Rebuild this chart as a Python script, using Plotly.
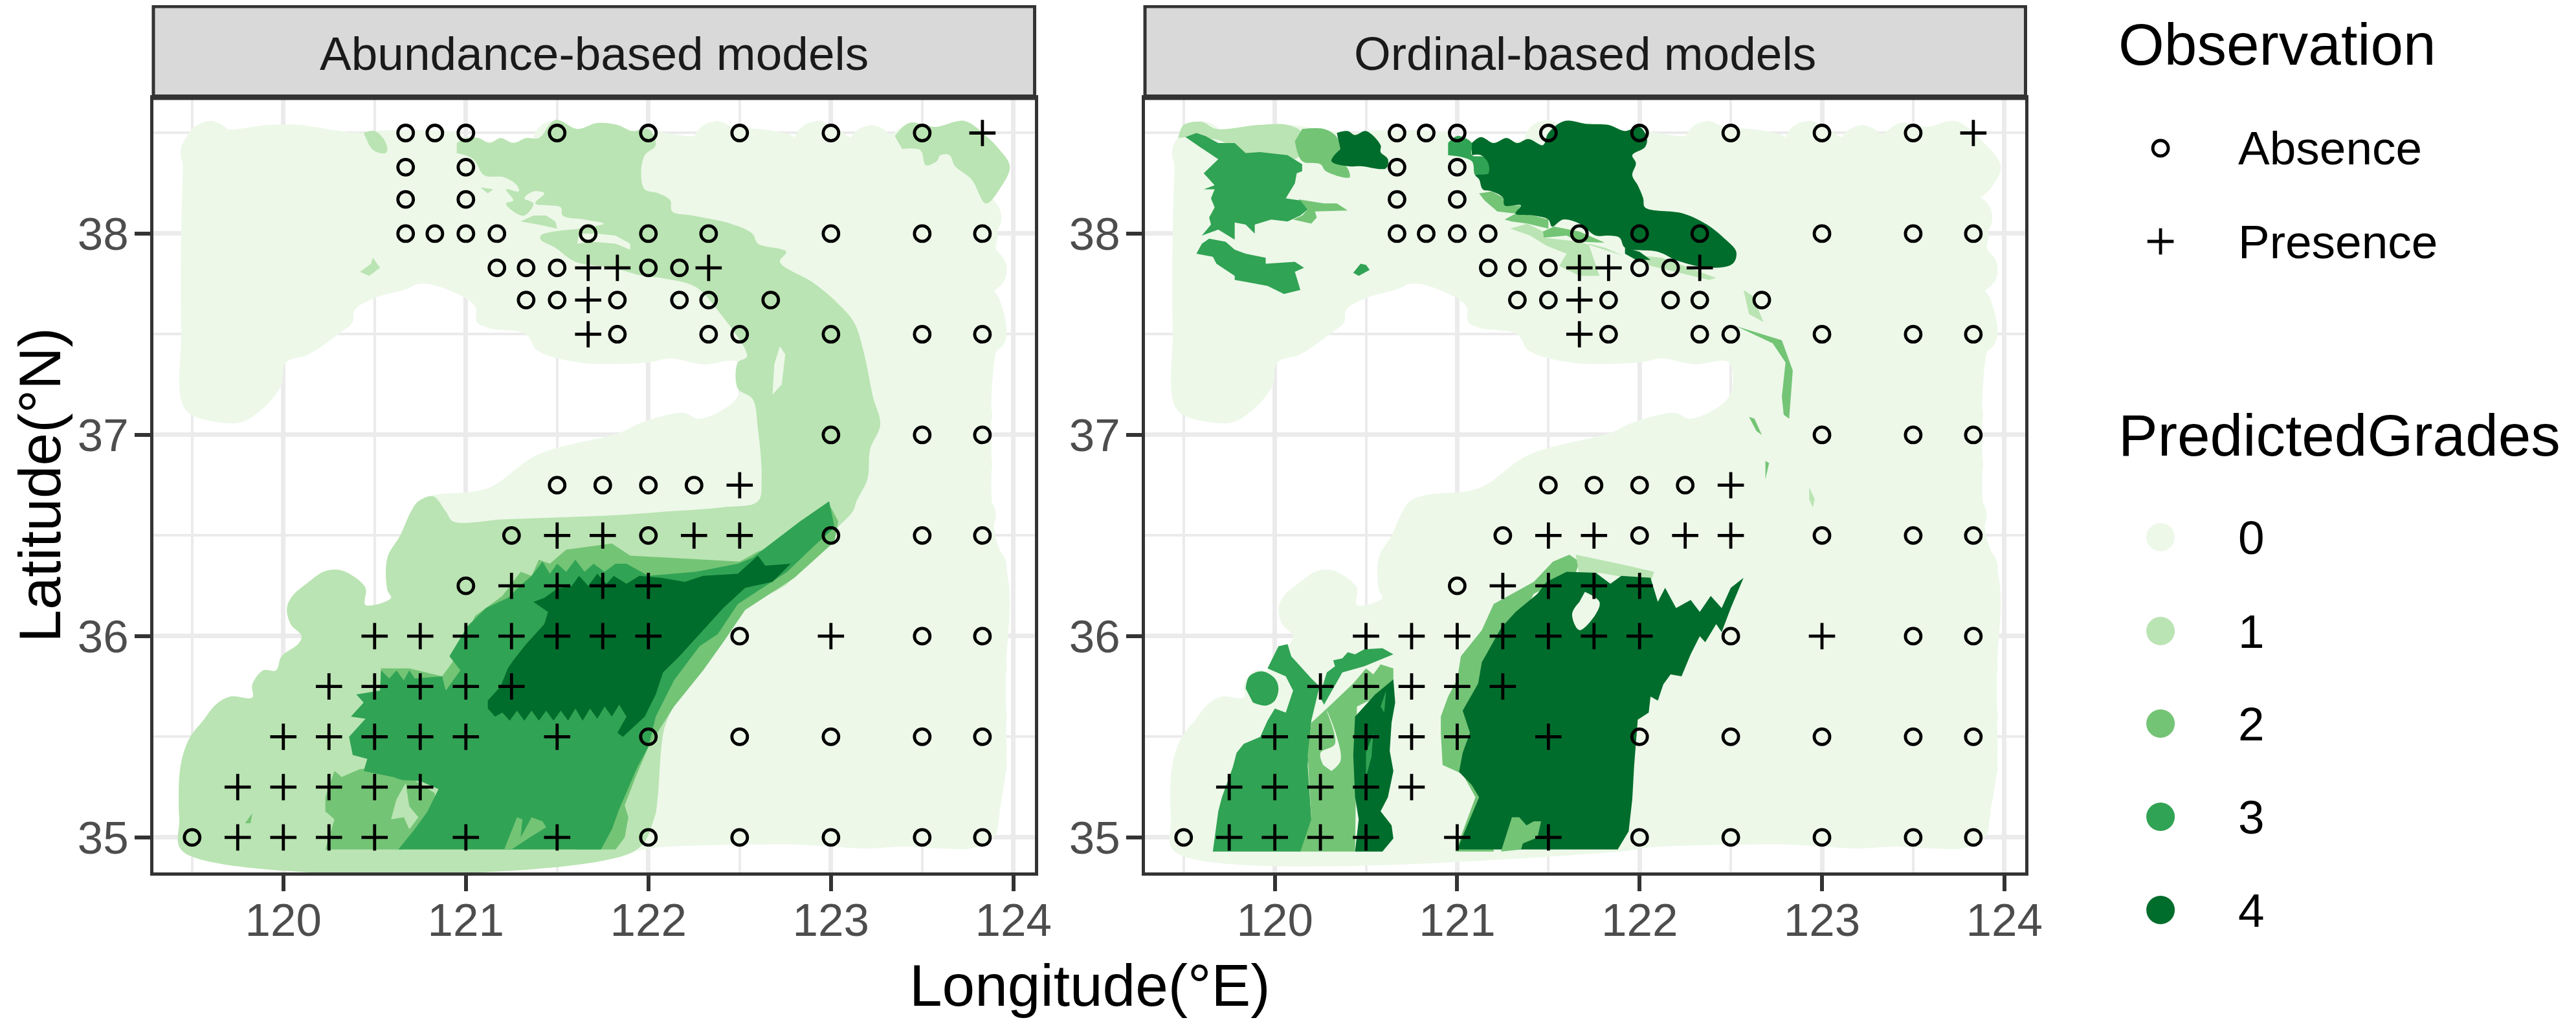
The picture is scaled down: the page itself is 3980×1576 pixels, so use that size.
import plotly.graph_objects as go

W, H = 3980, 1576

grade_names = ["0", "1", "2", "3", "4"]
grade_colors = ["#EDF8E9", "#BAE4B3", "#74C476", "#31A354", "#006D2C"]

x_ticks = [120, 121, 122, 123, 124]
x_minor = [119.5, 120.5, 121.5, 122.5, 123.5]
y_ticks = [35, 36, 37, 38]
y_minor = [35.5, 36.5, 37.5, 38.5]

# observations, same stations in both panels (lon, lat)
absence = [
    (120.67, 38.5), (120.83, 38.5), (121, 38.5), (121.5, 38.5), (122, 38.5), (122.5, 38.5), (123, 38.5), (123.5, 38.5),
    (120.67, 38.33), (121, 38.33), (120.67, 38.17), (121, 38.17),
    (120.67, 38), (120.83, 38), (121, 38), (121.17, 38), (121.67, 38), (122, 38), (122.33, 38), (123, 38), (123.5, 38), (123.83, 38),
    (121.17, 37.83), (121.33, 37.83), (121.5, 37.83), (122, 37.83), (122.17, 37.83),
    (121.33, 37.67), (121.5, 37.67), (121.83, 37.67), (122.17, 37.67), (122.33, 37.67), (122.67, 37.67),
    (121.83, 37.5), (122.33, 37.5), (122.5, 37.5), (123, 37.5), (123.5, 37.5), (123.83, 37.5),
    (123, 37), (123.5, 37), (123.83, 37),
    (121.5, 36.75), (121.75, 36.75), (122, 36.75), (122.25, 36.75),
    (121.25, 36.5), (122, 36.5), (123, 36.5), (123.5, 36.5), (123.83, 36.5),
    (121, 36.25), (122.5, 36), (123.5, 36), (123.83, 36),
    (122, 35.5), (122.5, 35.5), (123, 35.5), (123.5, 35.5), (123.83, 35.5),
    (119.5, 35), (122, 35), (122.5, 35), (123, 35), (123.5, 35), (123.83, 35),
]
presence = [
    (123.83, 38.5), (121.67, 37.83), (121.83, 37.83), (122.33, 37.83), (121.67, 37.67), (121.67, 37.5),
    (122.5, 36.75), (121.5, 36.5), (121.75, 36.5), (122.25, 36.5), (122.5, 36.5),
    (121.25, 36.25), (121.5, 36.25), (121.75, 36.25), (122, 36.25),
    (120.5, 36), (120.75, 36), (121, 36), (121.25, 36), (121.5, 36), (121.75, 36), (122, 36), (123, 36),
    (120.25, 35.75), (120.5, 35.75), (120.75, 35.75), (121, 35.75), (121.25, 35.75),
    (120, 35.5), (120.25, 35.5), (120.5, 35.5), (120.75, 35.5), (121, 35.5), (121.5, 35.5),
    (119.75, 35.25), (120, 35.25), (120.25, 35.25), (120.5, 35.25), (120.75, 35.25),
    (119.75, 35), (120, 35), (120.25, 35), (120.5, 35), (121, 35), (121.5, 35),
]

# south-west coast, south to north, shared by the outline and the grade 1 area
sw_coast = [
    (119.45, 34.93), (119.43, 35.09), (119.43, 35.30), (119.45, 35.41), (119.49, 35.50), (119.56, 35.58), (119.63, 35.66),
    (119.71, 35.70), (119.83, 35.695), (119.83, 35.76), (119.89, 35.83), (119.96, 35.83), (119.99, 35.90), (120.08, 35.96),
    (120.10, 36.0), (120.04, 36.06), (120.02, 36.14), (120.05, 36.20), (120.14, 36.27), (120.22, 36.32), (120.30, 36.33),
    (120.38, 36.30), (120.45, 36.24), (120.45, 36.155), (120.59, 36.19), (120.57, 36.23), (120.57, 36.39), (120.64, 36.50),
    (120.70, 36.62), (120.74, 36.67),
]
# whole sampled area, grade 0 where nothing else is drawn
outline_top = [
    (119.44, 38.41), (119.50, 38.52), (119.61, 38.56), (119.68, 38.52), (119.92, 38.54), (120.09, 38.54), (120.27, 38.515),
    (120.44, 38.50), (120.5, 38.51), (120.96, 38.50), (121, 38.475), (121.40, 38.475), (121.49, 38.565), (121.61, 38.52),
    (121.72, 38.55), (121.83, 38.54), (121.91, 38.51), (122.0, 38.52), (122.1, 38.50), (122.29, 38.49), (122.37, 38.56),
    (122.46, 38.53), (122.61, 38.52), (122.78, 38.49), (122.83, 38.46), (122.92, 38.56), (123.03, 38.52), (123.13, 38.475),
    (123.22, 38.54), (123.31, 38.49), (123.43, 38.55), (123.57, 38.53), (123.73, 38.56), (123.85, 38.485), (123.98, 38.335),
    (123.93, 38.23), (123.85, 38.15), (123.93, 38.08), (123.90, 37.99), (123.91, 37.91), (123.96, 37.82), (123.89, 37.75),
    (123.94, 37.63), (123.96, 37.51), (123.91, 37.43), (123.88, 37.19), (123.88, 36.87), (123.88, 36.70), (123.90, 36.5),
    (123.96, 36.34), (123.98, 36.18), (123.96, 35.85), (123.96, 35.6), (123.96, 35.35), (123.92, 35.11), (123.90, 35.01),
    (123.79, 34.95), (123.6, 34.945), (123.4, 34.955), (123.2, 34.945), (123, 34.955), (122.8, 34.965), (122.6, 34.965),
    (122.3, 34.96), (122.05, 34.95), (121.9, 34.93),
]
outline_hole = [
    (120.82, 36.70), (121.12, 36.735), (121.39, 36.90), (121.84, 37.01), (121.96, 37.06), (122.19, 37.11), (122.28, 37.08),
    (122.49, 37.19), (122.49, 37.36), (122.3, 37.35), (122.12, 37.38), (122.0, 37.36), (121.62, 37.36), (121.39, 37.42),
    (121.33, 37.5), (121.13, 37.53), (121.06, 37.56), (121.05, 37.64), (120.86, 37.735), (120.74, 37.75), (120.675, 37.725),
    (120.50, 37.68), (120.39, 37.62), (120.38, 37.56), (120.30, 37.5), (120.14, 37.40), (120.015, 37.36), (119.98, 37.23),
    (119.79, 37.07), (119.63, 37.065), (119.46, 37.13), (119.44, 37.52), (119.44, 38.01), (119.45, 38.34),
]
# round lobes along the edge of the area
edge_lobes = [
    (119.60, 38.445), (119.56, 38.40), (121.49, 38.45), (122.37, 38.445), (122.47, 38.42), (122.60, 38.405), (122.92, 38.445),
    (123.22, 38.425), (123.81, 38.08), (123.79, 37.99), (123.84, 37.82), (123.81, 37.63), (123.84, 37.51), (123.76, 37.32),
    (123.76, 37.1), (123.76, 36.85), (123.78, 36.6), (123.84, 36.34), (123.85, 36.18), (123.84, 36.0), (123.84, 35.85),
    (123.84, 35.6), (123.84, 35.35), (123.8, 35.12), (119.68, 37.19), (119.56, 37.4),
]

# abundance panel
a_g1_main = [
    (120.95, 38.45), (121.0, 38.475), (121.07, 38.475), (121.13, 38.45), (121.19, 38.475), (121.26, 38.45), (121.33, 38.475),
    (121.40, 38.475), (121.49, 38.565), (121.61, 38.52), (121.72, 38.55), (121.83, 38.54), (121.91, 38.51), (122.0, 38.52),
    (122.04, 38.44), (121.98, 38.39), (121.96, 38.30), (121.98, 38.22), (122.055, 38.20), (122.12, 38.165), (122.13, 38.11),
    (122.24, 38.09), (122.45, 38.05), (122.57, 38.0), (122.6, 37.95), (122.755, 37.91), (122.72, 37.86), (122.905, 37.755),
    (123.03, 37.66), (123.126, 37.56), (123.18, 37.41), (123.23, 37.19), (123.27, 37.05), (123.215, 36.93), (123.2, 36.78),
    (123.14, 36.67), (123.12, 36.62), (122.99, 36.50), (122.87, 36.38), (122.76, 36.26), (122.6, 36.18), (122.45, 36.09),
    (122.38, 35.95), (122.26, 35.8), (122.15, 35.67), (122.09, 35.55), (122.07, 35.44), (122.05, 35.19), (122.03, 35.09),
    (121.92, 34.93),
] + sw_coast + [
    (120.82, 36.695), (120.89, 36.62), (120.93, 36.57), (121.2, 36.58), (121.5, 36.59), (121.8, 36.60), (122.11, 36.62),
    (122.4, 36.64), (122.6, 36.67), (122.62, 36.78), (122.6, 37.03), (122.57, 37.18), (122.49, 37.23), (122.49, 37.36),
    (122.54, 37.39), (122.37, 37.63), (122.26, 37.735), (122.07, 37.78), (121.97, 37.79), (121.8, 37.83), (121.6, 37.86),
    (121.49, 37.93), (121.41, 37.97), (121.41, 37.99), (121.48, 38.01), (121.62, 38.025), (121.755, 38.05), (121.65, 38.07),
    (121.53, 38.09), (121.52, 38.13), (121.38, 38.15), (121.43, 38.20), (121.37, 38.21), (121.32, 38.175), (121.37, 38.15),
    (121.32, 38.09), (121.26, 38.11), (121.22, 38.15), (121.26, 38.165), (121.22, 38.22), (121.29, 38.21), (121.28, 38.24),
    (121.21, 38.28), (121.10, 38.29), (121.04, 38.37), (120.95, 38.40),
]
a_g1_frond = [(121.30, 38.06), (121.37, 38.09), (121.44, 38.09), (121.49, 38.06), (121.5, 38.025), (121.40, 38.045)]
a_g1_blob = [(120.44, 38.5), (120.5, 38.51), (120.55, 38.47), (120.57, 38.42), (120.56, 38.40), (120.5, 38.41), (120.47, 38.44)]
a_g1_bit1 = [(121.08, 38.23), (121.15, 38.22), (121.12, 38.2)]
a_g1_bit2 = [(120.42, 37.81), (120.48, 37.85), (120.49, 37.88), (120.53, 37.83), (120.47, 37.79)]
a_g1_ne = [
    (123.35, 38.485), (123.43, 38.55), (123.57, 38.53), (123.73, 38.56), (123.85, 38.485), (123.92, 38.42), (123.98, 38.335),
    (123.93, 38.23), (123.85, 38.15), (123.77, 38.27), (123.68, 38.335), (123.65, 38.39), (123.6, 38.39), (123.58, 38.36),
    (123.52, 38.34), (123.49, 38.415), (123.39, 38.42),
]
a_g0_slit = [(121.61, 37.95), (121.69, 37.96), (121.82, 37.95), (121.9, 37.92), (121.9, 37.95), (121.82, 37.99), (121.72, 38.0), (121.62, 38.0)]
a_g0_slit2 = [(122.72, 37.44), (122.75, 37.4), (122.73, 37.25), (122.68, 37.2), (122.69, 37.35)]
a_g2_sw = [
    (120.23, 34.94), (120.28, 35.09), (120.23, 35.13), (120.23, 35.2), (120.28, 35.33), (120.32, 35.30), (120.42, 35.34),
    (120.6, 35.35), (120.83, 35.22), (120.83, 35.17), (120.79, 35.13), (120.71, 35.03), (120.65, 34.94),
]
a_g2_speck = [(119.79, 35.07), (119.83, 35.12), (119.82, 35.07)]
a_g2_main = [
    (120.85, 35.5), (120.53, 35.73), (120.535, 35.84), (120.69, 35.84), (120.87, 35.80), (120.95, 35.9), (121.05, 36.1),
    (121.2, 36.2), (121.3, 36.32), (121.36, 36.3), (121.4, 36.38), (121.46, 36.36), (121.55, 36.43), (121.8, 36.46), (121.9, 36.4),
    (122.5, 36.37), (122.6, 36.42), (122.76, 36.47), (122.87, 36.57), (123.0, 36.64), (123.04, 36.57), (123.02, 36.47), (122.8, 36.29), (122.53, 36.13),
    (122.41, 35.97), (122.3, 35.83), (122.14, 35.65), (122.0, 35.45), (121.93, 35.3), (121.87, 35.16), (121.89, 35.1),
    (121.87, 35.0), (121.82, 34.94), (121.6, 34.94),
]
a_g3_main = [
    (120.63, 34.94), (120.71, 35.03), (120.79, 35.13), (120.85, 35.24), (120.75, 35.28), (120.65, 35.285), (120.6, 35.3),
    (120.44, 35.33), (120.46, 35.39), (120.38, 35.41), (120.36, 35.5), (120.40, 35.54), (120.45, 35.59), (120.37, 35.6),
    (120.44, 35.67), (120.40, 35.71), (120.53, 35.73), (120.535, 35.83), (120.58, 35.79), (120.62, 35.83), (120.66, 35.78),
    (120.69, 35.83), (120.72, 35.79), (120.87, 35.80), (120.89, 35.73), (120.97, 35.83), (120.91, 35.90), (121.01, 36.05),
    (121.11, 36.14), (121.23, 36.19), (121.31, 36.26), (121.36, 36.3), (121.42, 36.37), (121.46, 36.31), (121.5, 36.36), (121.55, 36.32),
    (121.6, 36.38), (121.65, 36.32), (121.7, 36.36), (121.76, 36.32), (121.82, 36.36),
    (121.88, 36.36), (122.0, 36.30), (122.26, 36.32), (122.49, 36.36), (122.57, 36.39), (122.83, 36.57), (122.99, 36.67),
    (123.02, 36.54), (122.91, 36.45), (122.76, 36.32), (122.49, 36.16), (122.38, 36.01), (122.28, 35.95), (122.14, 35.78),
    (122.04, 35.6), (122.0, 35.45), (121.94, 35.35), (121.84, 35.14), (121.80, 35.04), (121.74, 34.94),
]
a_g2_bit = [
    (121.21, 34.94), (121.28, 35.1), (121.31, 35.09), (121.3, 35.0), (121.36, 35.1), (121.42, 35.08), (121.44, 35.05),
    (121.35, 35.0), (121.25, 34.94),
]
a_g1_patch = [(120.59, 35.09), (120.62, 35.19), (120.67, 35.27), (120.69, 35.155), (120.74, 35.1), (120.69, 35.04), (120.66, 35.1)]
a_g4_main = [
    (121.12, 35.64), (121.12, 35.68), (121.19, 35.75), (121.23, 35.84), (121.26, 35.88), (121.33, 35.96), (121.43, 36.06),
    (121.45, 36.12), (121.37, 36.17), (121.43, 36.19), (121.50, 36.235), (121.58, 36.25), (121.62, 36.3), (121.67, 36.25),
    (121.72, 36.31), (121.77, 36.26), (121.81, 36.3), (121.88, 36.26), (121.95, 36.3), (122.07, 36.29), (122.2, 36.27),
    (122.3, 36.3), (122.49, 36.31), (122.6, 36.4), (122.64, 36.35), (122.78, 36.36), (122.68, 36.27), (122.53, 36.24),
    (122.41, 36.14), (122.28, 36.01), (122.17, 35.9), (122.08, 35.82), (122.04, 35.71), (121.98, 35.60), (121.86, 35.5),
    (121.83, 35.52), (121.88, 35.60), (121.84, 35.66), (121.80, 35.60), (121.76, 35.65), (121.72, 35.59), (121.68, 35.64),
    (121.64, 35.58), (121.60, 35.64), (121.56, 35.58), (121.52, 35.63), (121.48, 35.58), (121.44, 35.63), (121.40, 35.58),
    (121.36, 35.63), (121.32, 35.58), (121.28, 35.63), (121.24, 35.58), (121.20, 35.62), (121.16, 35.6),
]

# ordinal panel
o_g1_nw = [
    (119.47, 38.475), (119.50, 38.54), (119.60, 38.555), (119.68, 38.52), (119.91, 38.54), (120.07, 38.54), (120.15, 38.50),
    (120.13, 38.38), (119.84, 38.40), (119.69, 38.465), (119.51, 38.48),
]
o_g2_nw = [
    (120.15, 38.52), (120.27, 38.52), (120.34, 38.48), (120.36, 38.42), (120.31, 38.36), (120.39, 38.335), (120.41, 38.28),
    (120.28, 38.31), (120.25, 38.345), (120.15, 38.36), (120.11, 38.46),
]
o_g4_nw = [
    (120.34, 38.50), (120.40, 38.51), (120.44, 38.49), (120.50, 38.51), (120.58, 38.44), (120.58, 38.405), (120.62, 38.37),
    (120.61, 38.325), (120.47, 38.335), (120.40, 38.335), (120.31, 38.36), (120.36, 38.42),
]
o_g2_strip = [
    (120.13, 38.17), (120.27, 38.15), (120.34, 38.15), (120.40, 38.115), (120.22, 38.11), (120.23, 38.08), (120.20, 38.05),
    (120.10, 38.07), (120.15, 38.09), (120.18, 38.12),
]
o_g3_nw = [
    (119.51, 38.48), (119.57, 38.50), (119.62, 38.485), (119.69, 38.45), (119.78, 38.45), (119.84, 38.40), (119.92, 38.405),
    (120.07, 38.39), (120.15, 38.345), (120.15, 38.31), (120.12, 38.30), (120.11, 38.25), (120.06, 38.175), (120.14, 38.165),
    (120.18, 38.12), (120.14, 38.09), (120.07, 38.06), (119.98, 38.07), (119.89, 38.045), (119.89, 38.0), (119.84, 38.045),
    (119.78, 38.055), (119.78, 37.97), (119.69, 38.02), (119.60, 37.99), (119.65, 38.045), (119.64, 38.08), (119.67, 38.13),
    (119.65, 38.175), (119.67, 38.22), (119.61, 38.22), (119.67, 38.24), (119.61, 38.30), (119.66, 38.345), (119.69, 38.37),
    (119.59, 38.43),
]
o_g3_nw2 = [
    (119.57, 37.90), (119.60, 37.95), (119.64, 37.975), (119.73, 37.96), (119.78, 37.92), (119.84, 37.90), (119.95, 37.88),
    (119.95, 37.85), (120.11, 37.86), (120.16, 37.83), (120.11, 37.81), (120.14, 37.72), (120.05, 37.70), (119.96, 37.74),
    (119.84, 37.76), (119.78, 37.77), (119.78, 37.79), (119.68, 37.85), (119.66, 37.885),
]
o_g3_bit = [(120.43, 37.805), (120.47, 37.85), (120.50, 37.845), (120.52, 37.82), (120.46, 37.79)]
o_g3_n = [
    (120.95, 38.45), (121.0, 38.485), (121.08, 38.45), (121.08, 38.39), (121.15, 38.38), (121.18, 38.335), (121.17, 38.30),
    (121.10, 38.29), (121.08, 38.36), (120.95, 38.39),
]
o_g4_n = [
    (121.08, 38.45), (121.13, 38.48), (121.2, 38.45), (121.27, 38.475), (121.33, 38.45), (121.39, 38.47), (121.47, 38.44),
    (121.50, 38.50), (121.59, 38.56), (121.71, 38.545), (121.83, 38.54), (121.92, 38.51), (122, 38.53), (122.04, 38.475),
    (122.03, 38.43), (121.96, 38.39), (121.98, 38.35), (121.96, 38.29), (121.99, 38.24), (122.02, 38.175), (122.03, 38.13),
    (122.24, 38.10), (122.37, 38.045), (122.46, 37.98), (122.53, 37.91), (122.51, 37.85), (122.39, 37.83), (122.21, 37.865),
    (122.10, 37.91), (121.92, 37.93), (121.89, 37.98), (121.82, 37.99), (121.76, 37.99), (121.67, 38.05), (121.58, 38.07),
    (121.52, 38.035), (121.50, 38.07), (121.42, 38.09), (121.32, 38.10), (121.35, 38.14), (121.26, 38.14), (121.25, 38.18),
    (121.19, 38.21), (121.14, 38.22), (121.12, 38.27), (121.10, 38.29), (121.17, 38.30), (121.17, 38.35), (121.13, 38.39),
    (121.08, 38.39),
]
o_g4_n2 = [(121.92, 37.93), (122.0, 37.91), (122.06, 37.87), (121.98, 37.87), (121.92, 37.9)]
o_g2_n1 = [(121.12, 38.2), (121.19, 38.21), (121.25, 38.18), (121.26, 38.14), (121.35, 38.14), (121.32, 38.10), (121.22, 38.11), (121.15, 38.165)]
o_g2_n2 = [(121.26, 38.07), (121.32, 38.10), (121.42, 38.09), (121.50, 38.07), (121.50, 38.025), (121.385, 38.05), (121.30, 38.06)]
o_g1_n1 = [
    (121.29, 38.025), (121.385, 38.05), (121.47, 38.01), (121.475, 37.98), (121.67, 37.96), (121.91, 37.89), (121.81, 37.93),
    (121.72, 37.95), (121.78, 37.79), (121.67, 37.79), (121.56, 37.84), (121.60, 37.90), (121.49, 37.94), (121.40, 37.99),
]
o_g1_n2 = [(121.92, 37.90), (122.12, 37.88), (122.17, 37.865), (122.42, 37.78), (122.38, 37.77), (122.06, 37.84)]
o_g2_n3 = [(121.47, 38.01), (121.53, 38.035), (121.67, 38.01), (121.81, 37.955), (121.67, 37.96), (121.6, 37.99), (121.475, 37.98)]
o_g1_strip = [(122.57, 37.72), (122.62, 37.69), (122.68, 37.56), (122.6, 37.6)]
o_g2_strip2 = [
    (122.53, 37.54), (122.6, 37.52), (122.78, 37.47), (122.84, 37.32), (122.82, 37.08), (122.79, 37.1), (122.78, 37.19),
    (122.80, 37.36), (122.73, 37.455),
]
o_g2_bit1 = [(122.6, 37.09), (122.63, 37.08), (122.67, 37.0), (122.64, 37.02)]
o_g2_bit2 = [(122.69, 36.87), (122.71, 36.86), (122.69, 36.78)]
o_g1_bit3 = [(122.93, 36.74), (122.96, 36.68), (122.95, 36.64), (122.93, 36.68)]
o_g3_w = [
    (119.66, 34.93), (119.69, 35.13), (119.71, 35.2), (119.75, 35.30), (119.77, 35.35), (119.79, 35.42), (119.83, 35.465),
    (119.92, 35.5), (119.96, 35.58), (120.0, 35.64), (120.06, 35.62), (120.1, 35.73), (120.06, 35.80), (119.96, 35.84),
    (120.02, 35.95), (120.07, 35.96), (120.09, 35.90), (120.14, 35.85), (120.20, 35.79), (120.245, 35.75),
    (120.2, 35.58), (120.18, 35.36), (120.2, 35.09), (120.19, 34.98), (120.14, 34.93),
]
o_g3_blob = [(119.84, 35.74), (119.86, 35.80), (119.93, 35.825), (120.0, 35.79), (120.02, 35.74), (120.0, 35.68), (119.95, 35.655), (119.88, 35.67)]
o_g3_streak = [
    (120.285, 35.82), (120.33, 35.85), (120.32, 35.88), (120.37, 35.89), (120.40, 35.92), (120.44, 35.91), (120.49, 35.935), (120.59, 35.94),
    (120.65, 35.91), (120.57, 35.88), (120.49, 35.85), (120.37, 35.82), (120.27, 35.66), (120.245, 35.70),
]
o_g2_mid = [
    (120.14, 34.93), (120.2, 35.09), (120.18, 35.41), (120.2, 35.57), (120.285, 35.64), (120.43, 35.765), (120.5, 35.84),
    (120.54, 35.81), (120.58, 35.86), (120.65, 35.84), (120.65, 35.74), (120.45, 35.65), (120.44, 34.93),
]
o_g0_mid = [
    (120.265, 35.36), (120.25, 35.42), (120.33, 35.465), (120.285, 35.63), (120.34, 35.5), (120.36, 35.38), (120.31, 35.33),
]
o_g4_w = [
    (120.44, 34.93), (120.46, 35.09), (120.44, 35.2), (120.43, 35.41), (120.44, 35.6), (120.55, 35.71), (120.65, 35.785),
    (120.66, 35.67), (120.64, 35.57), (120.63, 35.43), (120.65, 35.33), (120.62, 35.2), (120.58, 35.13), (120.64, 35.06),
    (120.65, 34.995), (120.59, 34.93),
]
o_g3_fleck1 = [(120.5, 35.42), (120.54, 35.52), (120.53, 35.4), (120.5, 35.3)]
o_g3_fleck2 = [(120.58, 35.65), (120.61, 35.73), (120.6, 35.62)]
o_g2_east = [
    (120.99, 34.93), (121.07, 35.13), (121.1, 35.2), (121.03, 35.315), (120.92, 35.36), (120.91, 35.52), (120.91, 35.6),
    (120.95, 35.7), (121.0, 35.785), (121.02, 35.9), (121.135, 36.03), (121.2, 36.16), (121.42, 36.27), (121.525, 36.37),
    (121.615, 36.405), (121.67, 36.37), (121.65, 36.315), (121.42, 36.21), (121.3, 36.0), (121.2, 35.5), (121.2, 34.93),
]
o_g1_top = [(121.65, 36.405), (121.885, 36.36), (122.08, 36.32), (122.06, 36.27), (121.78, 36.315), (121.67, 36.3)]
o_g4_main = [
    (121.0, 34.94), (121.07, 35.09), (121.12, 35.2), (121.08, 35.26), (121.01, 35.325), (121.03, 35.42), (121.07, 35.52),
    (121.03, 35.63), (121.115, 35.765), (121.135, 35.87), (121.24, 36.04), (121.32, 36.12), (121.44, 36.21), (121.49, 36.27),
    (121.6, 36.32), (121.76, 36.315), (121.84, 36.26), (121.9, 36.3), (122.06, 36.29), (122.1, 36.17), (122.14, 36.24),
    (122.2, 36.14), (122.28, 36.18), (122.33, 36.12), (122.39, 36.2), (122.45, 36.14), (122.5, 36.24), (122.57, 36.29),
    (122.5, 36.14), (122.45, 36.02), (122.42, 36.06), (122.36, 35.97), (122.33, 36.0), (122.28, 35.91), (122.23, 35.8),
    (122.17, 35.81), (122.13, 35.76), (122.1, 35.68), (122.06, 35.70), (122.05, 35.62), (121.99, 35.585),
    (121.97, 35.355), (121.96, 35.19), (121.94, 35.03), (121.88, 34.94),
]
o_g0_patch = [(121.7, 36.22), (121.78, 36.17), (121.76, 36.11), (121.67, 36.03), (121.63, 36.11), (121.67, 36.17)]
o_g2_patch = [
    (121.24, 34.93), (121.3, 35.1), (121.34, 35.1), (121.38, 35.06), (121.42, 35.08), (121.46, 35.08), (121.44, 35.0),
    (121.36, 34.97), (121.35, 34.94),
]

# grade and polygon, in drawing order
abundance_areas = [
    (1, a_g1_main), (1, a_g1_frond), (1, a_g1_blob), (1, a_g1_bit1), (1, a_g1_bit2), (1, a_g1_ne),
    (0, a_g0_slit), (0, a_g0_slit2), (2, a_g2_speck), (2, a_g2_sw), (2, a_g2_main), (1, a_g1_patch), (3, a_g3_main),
    (2, a_g2_bit), (4, a_g4_main),
]
ordinal_areas = [
    (1, o_g1_nw), (2, o_g2_nw), (4, o_g4_nw), (2, o_g2_strip), (3, o_g3_nw), (3, o_g3_nw2), (3, o_g3_bit),
    (1, o_g1_n1), (1, o_g1_n2), (2, o_g2_n1), (2, o_g2_n2), (2, o_g2_n3), (3, o_g3_n), (4, o_g4_n), (4, o_g4_n2),
    (1, o_g1_strip), (2, o_g2_strip2), (2, o_g2_bit1), (2, o_g2_bit2), (1, o_g1_bit3),
    (3, o_g3_w), (3, o_g3_blob), (3, o_g3_streak), (2, o_g2_mid), (0, o_g0_mid), (4, o_g4_w), (3, o_g3_fleck1), (3, o_g3_fleck2),
    (2, o_g2_east), (1, o_g1_top), (4, o_g4_main), (0, o_g0_patch), (2, o_g2_patch),
]

outline = outline_top + sw_coast + outline_hole

# these edges are rounded in the picture, the others are jagged
rounded_areas = [outline, a_g1_main, a_g1_blob, a_g1_ne, o_g1_nw, o_g2_nw, o_g4_nw, o_g3_n, o_g4_n, o_g3_blob, o_g0_patch, o_g0_mid]


def split(pairs):
    return [p[0] for p in pairs], [p[1] for p in pairs]


def add_area(fig, grade, pairs, xa, ya):
    lons, lats = split(pairs)
    shape = "spline" if any(pairs is r for r in rounded_areas) else "linear"
    fig.add_trace(go.Scatter(x=lons, y=lats, mode="lines", fill="toself", fillcolor=grade_colors[grade],
                             line=dict(width=0, shape=shape, color=grade_colors[grade]),
                             xaxis=xa, yaxis=ya, showlegend=False, hoverinfo="skip"))


def add_observations(fig, pairs, symbol, size, xa, ya):
    lons, lats = split(pairs)
    fig.add_trace(go.Scatter(x=lons, y=lats, mode="markers", xaxis=xa, yaxis=ya, showlegend=False,
                             marker=dict(symbol=symbol, size=size, color="black", line=dict(width=4.8, color="black"))))


fig = go.Figure()

panels = [("x", "y", abundance_areas), ("x2", "y2", ordinal_areas)]
for xa, ya, areas in panels:
    add_area(fig, 0, outline, xa, ya)
    lons, lats = split(edge_lobes)
    fig.add_trace(go.Scatter(x=lons, y=lats, mode="markers", xaxis=xa, yaxis=ya, showlegend=False, hoverinfo="skip",
                             marker=dict(size=70, color=grade_colors[0], line=dict(width=0))))
    for grade, pairs in areas:
        add_area(fig, grade, pairs, xa, ya)
    add_observations(fig, absence, "circle-open", 24, xa, ya)
    add_observations(fig, presence, "cross-thin", 29, xa, ya)

# legend keys on a hidden axis right of the panels, in page pixels
key_x = 3360
obs_y = {"Absence": 229, "Presence": 373}
grade_y = [830, 975, 1118, 1262, 1406]
add_observations(fig, [(key_x, obs_y["Absence"])], "circle-open", 24, "x3", "y3")
add_observations(fig, [(key_x, obs_y["Presence"])], "cross-thin", 29, "x3", "y3")
fig.add_trace(go.Scatter(x=[key_x] * 5, y=grade_y, mode="markers", xaxis="x3", yaxis="y3", showlegend=False,
                         marker=dict(size=44, color=grade_colors, line=dict(width=0))))

# the page body puts 8 px round the figure, so take that off here
body = 8


def pad_x(v):
    return (v - body) / W


def pad_y(v):
    return 1 - (v - body) / H


panel_left = [238.5, 1780.6]
panel_right = [1609, 3150]
panel_top, panel_bottom = 152, 1348
strip_top = 10
x_range = [119.288, 124.116]
y_range = [34.826, 38.672]

font = "Liberation Sans"
axis_style = dict(
    showline=True, mirror=True, linecolor="#333333", linewidth=5, zeroline=False,
    showgrid=True, gridcolor="#EBEBEB", gridwidth=7,
    ticks="outside", ticklen=24, tickwidth=6, tickcolor="#333333",
    tickfont=dict(family=font, size=71, color="#4D4D4D"),
)

annotations = []
shapes = []
titles = ["Abundance-based models", "Ordinal-based models"]
for i in range(2):
    shapes.append(dict(type="rect", xref="paper", yref="paper", x0=pad_x(panel_left[i]), x1=pad_x(panel_right[i]),
                       y0=pad_y(panel_top), y1=pad_y(strip_top), fillcolor="#D9D9D9",
                       line=dict(color="#333333", width=5)))
    shapes.append(dict(type="line", xref="paper", yref="paper", x0=pad_x(panel_left[i]), x1=pad_x(panel_right[i]),
                       y0=pad_y(150), y1=pad_y(150), line=dict(color="#333333", width=8)))
    annotations.append(dict(text=titles[i], x=pad_x((panel_left[i] + panel_right[i]) / 2), y=pad_y(82),
                            xref="paper", yref="paper", showarrow=False, xanchor="center", yanchor="middle",
                            font=dict(family=font, size=73, color="#1A1A1A")))

annotations.append(dict(text="Longitude(°E)", x=pad_x(1695), y=pad_y(1522), xref="paper", yref="paper", showarrow=False,
                        xanchor="center", yanchor="middle", font=dict(family=font, size=91, color="black")))
annotations.append(dict(text="Latitude(°N)", x=pad_x(62), y=pad_y(749), xref="paper", yref="paper", showarrow=False, textangle=-90,
                        xanchor="center", yanchor="middle", font=dict(family=font, size=91, color="black")))
annotations.append(dict(text="Observation", x=pad_x(3292), y=pad_y(68), xref="paper", yref="paper", showarrow=False,
                        xanchor="left", yanchor="middle", font=dict(family=font, size=91, color="black")))
annotations.append(dict(text="PredictedGrades", x=pad_x(3292), y=pad_y(672), xref="paper", yref="paper", showarrow=False,
                        xanchor="left", yanchor="middle", font=dict(family=font, size=91, color="black")))
for name, yy in obs_y.items():
    annotations.append(dict(text=name, x=pad_x(3479), y=pad_y(yy), xref="paper", yref="paper", showarrow=False,
                            xanchor="left", yanchor="middle", font=dict(family=font, size=73, color="black")))
for name, yy in zip(grade_names, grade_y):
    annotations.append(dict(text=name, x=pad_x(3479), y=pad_y(yy), xref="paper", yref="paper", showarrow=False,
                            xanchor="left", yanchor="middle", font=dict(family=font, size=73, color="black")))

minor_x = dict(tickvals=x_minor, showgrid=True, gridcolor="#EBEBEB", gridwidth=3.5, ticklen=0)
minor_y = dict(tickvals=y_minor, showgrid=True, gridcolor="#EBEBEB", gridwidth=3.5, ticklen=0)

fig.update_layout(
    width=W, height=H, autosize=False, margin=dict(l=0, r=0, t=0, b=0),
    plot_bgcolor="white", paper_bgcolor="white", showlegend=False,
    shapes=shapes, annotations=annotations,
    xaxis=dict(domain=[pad_x(panel_left[0]), pad_x(panel_right[0])], range=x_range, tickvals=x_ticks, minor=minor_x, anchor="y", ticklabelstandoff=-16, **axis_style),
    yaxis=dict(domain=[pad_y(panel_bottom), pad_y(panel_top)], range=y_range, tickvals=y_ticks, minor=minor_y, anchor="x", ticklabelstandoff=-5, **axis_style),
    xaxis2=dict(domain=[pad_x(panel_left[1]), pad_x(panel_right[1])], range=x_range, tickvals=x_ticks, minor=minor_x, anchor="y2", ticklabelstandoff=-16, **axis_style),
    yaxis2=dict(domain=[pad_y(panel_bottom), pad_y(panel_top)], range=y_range, tickvals=y_ticks, minor=minor_y, anchor="x2", ticklabelstandoff=-5, **axis_style),
    xaxis3=dict(domain=[pad_x(3200), 1], range=[3200, W + body], visible=False, anchor="y3"),
    yaxis3=dict(domain=[0, 1], range=[H + body, body], visible=False, anchor="x3"),
)

fig.write_html("out.html")
